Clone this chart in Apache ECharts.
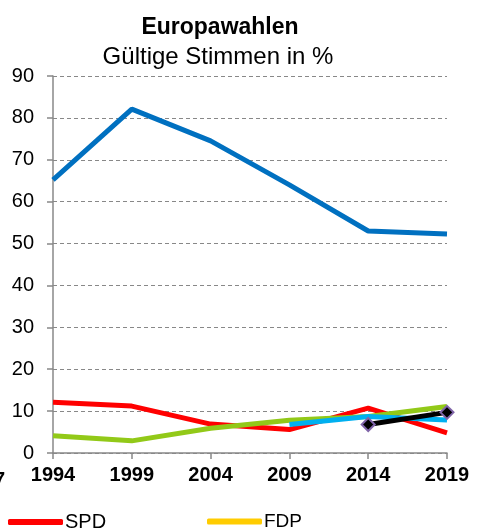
<!DOCTYPE html>
<html>
<head>
<meta charset="utf-8">
<script src="https://cdn.jsdelivr.net/npm/echarts@6/dist/echarts.min.js"></script>
<style>
  html, body { margin: 0; padding: 0; background: #fff; }
  #chart { width: 487px; height: 529px; }
</style>
</head>
<body>
<div id="chart"></div>
<script>
// Wahljahre
const years = ["1994", "1999", "2004", "2009", "2014", "2019"];

// Gültige Stimmen in %
const blueValues = [65.2, 82.1, 74.5, 64.0, 53.0, 52.3];
const spdValues = [12.1, 11.2, 6.9, 5.6, 10.7, 4.8];
const fdpValues = [null, null, null, null, null, null];
const greenValues = [4.1, 2.9, 5.9, 7.8, 8.7, 11.1];
const blackValues = [null, null, null, null, 6.8, 9.7];
const lightBlueValues = [null, null, null, 6.8, 8.7, 7.9];

const font = '"Liberation Sans", Arial, sans-serif';

const chart = echarts.init(document.getElementById("chart"));

function lineSeries(name, data, color, extra) {
  return Object.assign({
    name: name,
    type: "line",
    data: data,
    symbol: "none",
    connectNulls: false,
    lineStyle: { color: color, width: 5 },
    itemStyle: { color: color },
    silent: true,
  }, extra || {});
}

const option = {
  animation: false,
  backgroundColor: "#fff",
  textStyle: { fontFamily: font },
  title: [
    {
      text: "Europawahlen",
      left: 215, top: 11, textAlign: "center",
      textStyle: { fontFamily: font, fontSize: 23, fontWeight: "bold", color: "#000" },
    },
    {
      text: "Gültige Stimmen in %",
      left: 213, top: 40, textAlign: "center",
      textStyle: { fontFamily: font, fontSize: 24, fontWeight: "normal", color: "#000" },
    },
  ],
  legend: [
    {
      data: ["SPD"], left: 3, top: 507,
      itemWidth: 55, itemHeight: 6, icon: "roundRect",
      textStyle: { fontFamily: font, fontSize: 20, color: "#000", padding: [0, 0, 0, -3] },
    },
    {
      data: ["FDP"], left: 202, top: 507,
      itemWidth: 55, itemHeight: 6, icon: "roundRect",
      textStyle: { fontFamily: font, fontSize: 19, color: "#000", padding: [0, 0, 0, -3] },
    },
  ],
  graphic: [
    {
      type: "text", left: -6, top: 470,
      style: { text: "7", fontFamily: font, fontSize: 20, fontWeight: "bold", fill: "#000" },
    },
  ],
  grid: { left: 53, right: 40, top: 76, bottom: 76, containLabel: false },
  xAxis: {
    type: "category",
    data: years,
    boundaryGap: false,
    axisLine: { show: true, lineStyle: { color: "#888", width: 1.5 } },
    axisTick: { show: true, alignWithLabel: true, length: 6, lineStyle: { color: "#888", width: 1.5 } },
    axisLabel: { fontFamily: font, fontSize: 20, fontWeight: "bold", color: "#000", margin: 12 },
    splitLine: { show: false },
  },
  yAxis: {
    type: "value",
    min: 0, max: 90, interval: 10,
    axisLine: { show: true, lineStyle: { color: "#888", width: 1.5 } },
    axisTick: { show: true, length: 6, lineStyle: { color: "#888", width: 1.5 } },
    axisLabel: { fontFamily: font, fontSize: 20, color: "#000", margin: 19 },
    splitLine: { show: true, lineStyle: { color: "#888", type: [4, 3], width: 1 } },
  },
  series: [
    lineSeries("CSU", blueValues, "#0070C0"),
    lineSeries("SPD", spdValues, "#FF0000"),
    lineSeries("FDP", fdpValues, "#FFCC00"),
    lineSeries("Grüne", greenValues, "#92C918"),
    lineSeries("Freie Wähler", blackValues, "#000000", {
      symbol: "diamond", symbolSize: 13, showSymbol: true,
      itemStyle: { color: "#000", borderColor: "#7F64A8", borderWidth: 2 },
      z: 4,
    }),
    lineSeries("AfD", lightBlueValues, "#00B0F0", { z: 3 }),
  ],
};

chart.setOption(option);
</script>
</body>
</html>
